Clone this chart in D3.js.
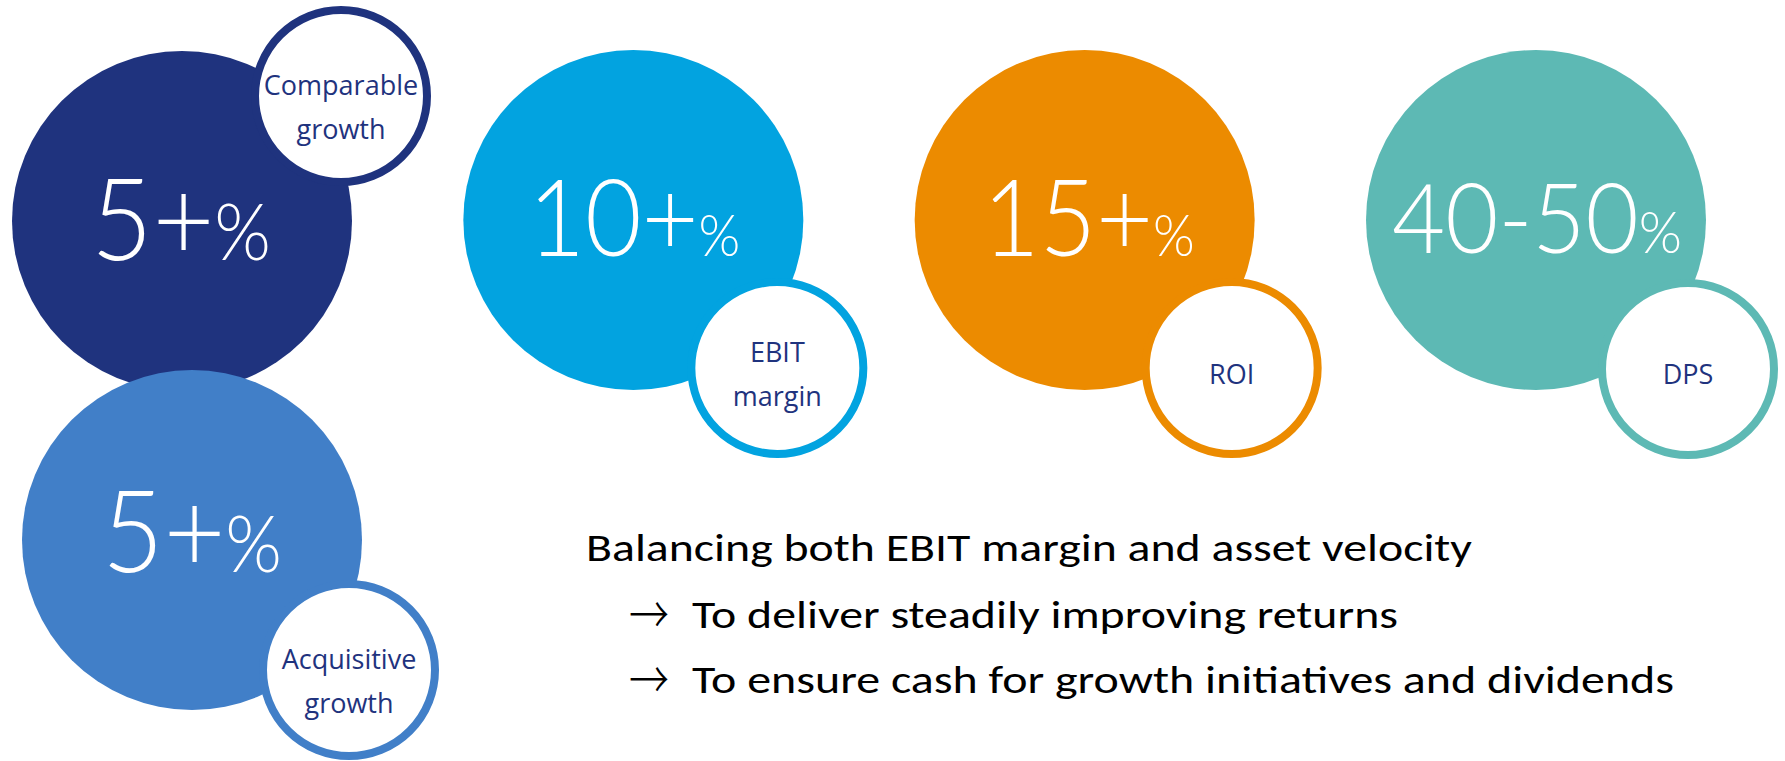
<!DOCTYPE html>
<html>
<head>
<meta charset="utf-8">
<script src="https://cdn.jsdelivr.net/npm/d3@7/dist/d3.min.js"></script>
<style>
  html, body { margin: 0; padding: 0; background: #ffffff; }
  svg { display: block; }
</style>
</head>
<body>
<script>
// ---- data ----
const categories = ["Comparable growth", "Acquisitive growth", "EBIT margin", "ROI", "DPS"];
const targetValues = ["5+", "5+", "10+", "15+", "40-50"];
const valueUnits = ["%", "%", "%", "%", "%"];
const labelLines = [["Comparable", "growth"], ["Acquisitive", "growth"], ["EBIT", "margin"], ["ROI"], ["DPS"]];
const columns = [0, 0, 1, 2, 3];
const rows = [0, 1, 0, 0, 0];
const noteHeading = "Balancing both EBIT margin and asset velocity";
const noteBullets = ["To deliver steadily improving returns", "To ensure cash for growth initiatives and dividends"];

// ---- styles / layout ----
const W = 1785, H = 761;
const colorScale = d3.scaleOrdinal().domain(categories)
  .range(["#1f337e", "#417fc8", "#02a3e0", "#ec8b00", "#5db9b4"]);
const labelColor = "#1f337e";
const x = d3.scalePoint().domain([0, 1, 2, 3]).range([182, 1536]);
const y = d3.scalePoint().domain([0, 1]).range([221, 540]);
const colOffset = [0, 10, 0, 0, 0];
const rowOffset = [0, 0, -1, -1, -1];
const bigR = 170;
const smallR = 86;
const smallStroke = 8;
const smallDx = [159, 157, 144, 147, 152];
const smallDy = [-125, 130, 148, 148, 149];
const numBaseline = [39, 32, 36, 36, 33];
const numShift = [-1, 0, 1, 4, 1];
const numWidth = [180, 180, 212, 212, 290];
const numSize = [114, 114, 106, 106, 96];
const unitSize = [78, 78, 58, 58, 58];
const labelShift = [21, 21, 16, 16, 15];

const svg = d3.select("body").append("svg")
  .attr("width", W).attr("height", H).attr("viewBox", `0 0 ${W} ${H}`);

const items = categories.map((c, i) => ({
  cat: c, value: targetValues[i], unit: valueUnits[i], label: labelLines[i],
  cx: x(columns[i]) + colOffset[i], cy: y(rows[i]) + rowOffset[i], i
}));

const g = svg.selectAll("g.item").data(items).join("g").attr("class", "item");

g.append("circle")
  .attr("cx", d => d.cx).attr("cy", d => d.cy).attr("r", bigR)
  .attr("fill", d => colorScale(d.cat));

const numFont = "Lato, 'Open Sans', 'Segoe UI', sans-serif";
const t = g.append("text")
  .attr("x", 0).attr("y", 0)
  .attr("fill", "#ffffff")
  .style("font-family", numFont)
  .style("font-weight", 300);
t.append("tspan").style("font-size", d => numSize[d.i] + "px").text(d => d.value);
t.append("tspan").style("font-size", d => unitSize[d.i] + "px").text(d => d.unit);
t.each(function(d) {
  const natural = this.getComputedTextLength() || numWidth[d.i];
  const k = numWidth[d.i] / natural;
  const left = d.cx + numShift[d.i] - numWidth[d.i] / 2;
  d3.select(this).attr("transform", `translate(${left},${d.cy + numBaseline[d.i]}) scale(${k},1)`);
});

g.append("circle")
  .attr("cx", d => d.cx + smallDx[d.i]).attr("cy", d => d.cy + smallDy[d.i])
  .attr("r", smallR)
  .attr("fill", "#ffffff")
  .attr("stroke", d => colorScale(d.cat))
  .attr("stroke-width", smallStroke);

g.each(function(d) {
  const sx = d.cx + smallDx[d.i], sy = d.cy + smallDy[d.i];
  const n = d.label.length;
  const lh = 44;
  const lbl = d3.select(this).append("text")
    .attr("text-anchor", "middle")
    .attr("fill", labelColor)
    .style("font-family", "'Open Sans', 'Segoe UI', sans-serif")
    .style("font-size", "27px");
  d.label.forEach((line, k) => {
    lbl.append("tspan")
      .attr("x", sx)
      .attr("y", sy + labelShift[d.i] + (k - (n - 1) / 2) * lh)
      .text(line);
  });
});

// ---- note text ----
const noteFont = "Carlito, Lato, 'Open Sans', sans-serif";
const note = svg.append("g").style("font-family", noteFont).style("font-size", "38px").attr("fill", "#000000");
note.append("text").attr("x", 586).attr("y", 561)
  .attr("textLength", 886).attr("lengthAdjust", "spacingAndGlyphs")
  .text(noteHeading);
const bulletY = [628, 693];
const bulletW = [706, 982];
noteBullets.forEach((b, k) => {
  note.append("text")
    .attr("x", 0).attr("y", 0)
    .attr("transform", `translate(629,${bulletY[k] + 6}) scale(1,1.3)`)
    .style("font-family", "'Noto Sans CJK JP', 'Noto Sans CJK SC', sans-serif").style("font-size", "40px")
    .style("font-weight", 300)
    .text("\u2192");
  note.append("text").attr("x", 692).attr("y", bulletY[k])
    .attr("textLength", bulletW[k]).attr("lengthAdjust", "spacingAndGlyphs")
    .text(b);
});
</script>
</body>
</html>
